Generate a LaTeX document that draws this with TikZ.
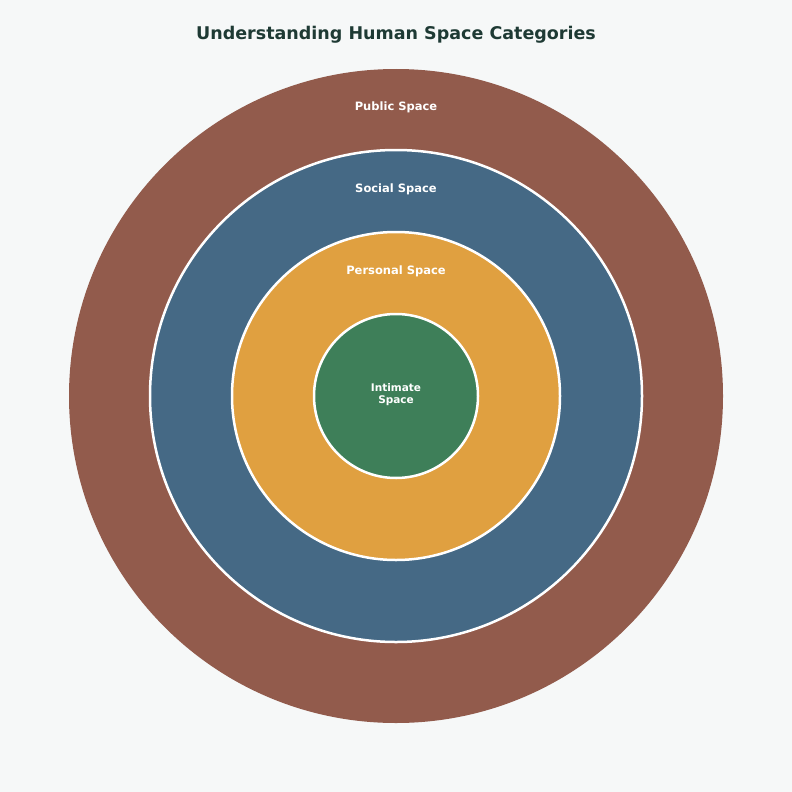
\documentclass[tikz,border=0pt]{standalone}
\usepackage{fontspec}
\setmainfont{DejaVu Sans}
\begin{document}
\begin{tikzpicture}[x=1pt,y=-1pt,
 ring/.style={draw=white,line width=2.5pt},
 lab/.style={text=white,font=\bfseries\fontsize{11.5}{13}\selectfont,align=center}]
\definecolor{bg}{HTML}{F6F8F8}
\definecolor{pub}{HTML}{925B4C}
\definecolor{soc}{HTML}{456985}
\definecolor{per}{HTML}{E0A040}
\definecolor{inti}{HTML}{3E7F59}
\definecolor{ttl}{HTML}{1E3A34}
\fill[bg] (0,0) rectangle (792,792);
\useasboundingbox (0,0) rectangle (792,792);
\fill[pub] (396,396) circle (327);
\filldraw[fill=soc,ring] (396,396) circle (246);
\filldraw[fill=per,ring] (396,396) circle (164);
\filldraw[fill=inti,ring] (396,396) circle (82);
\node (title) at (396,35) {\textcolor{ttl}{\bfseries\fontsize{17.5}{20}\selectfont Understanding Human Space Categories}};
\node[lab] (public) at (396,107) {Public Space};
\node[lab] (social) at (396,189) {Social Space};
\node[lab] (personal) at (396,271) {Personal Space};
\node[lab,font=\bfseries\fontsize{10.5}{12}\selectfont] (intimate) at (396,395) {Intimate\\Space};
\end{tikzpicture}
\end{document}
